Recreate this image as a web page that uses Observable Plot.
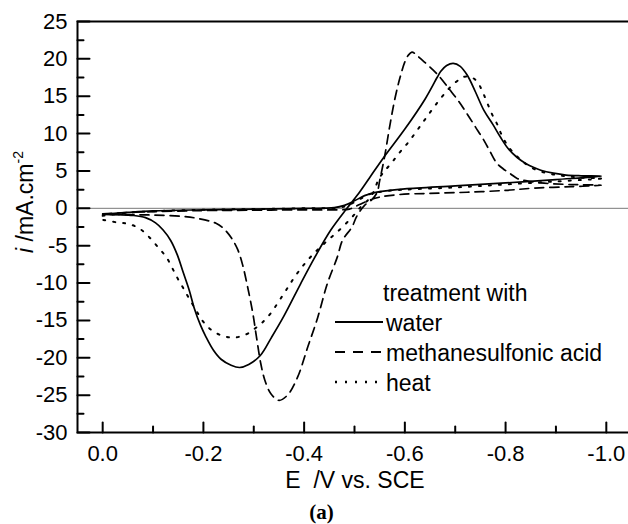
<!DOCTYPE html>
<html><head><meta charset="utf-8">
<script src="https://cdn.jsdelivr.net/npm/d3@7"></script>
<script src="https://cdn.jsdelivr.net/npm/@observablehq/plot@0.6"></script>
<style>
body{margin:0;background:#fff;}
#wrap{position:relative;width:628px;height:524px;overflow:hidden;background:#fff;}
#wrap svg{overflow:hidden;display:block;}
#caption{position:absolute;left:0;top:502px;width:643px;text-align:center;font:bold 21px "Liberation Serif","Times New Roman",serif;line-height:20px;color:#000;}
</style></head><body>
<div id="wrap"><div id="chart"></div><div id="caption">(a)</div></div>
<script>
// ---- data (E in V vs SCE, i in mA.cm-2), each curve traced as one closed cycle ----
const waterE = [0.0,-0.05,-0.1,-0.2,-0.3,-0.4,-0.46,-0.48,-0.5,-0.52,-0.54,-0.57,-0.6,-0.7,-0.8,-0.9,-0.99,
  -0.95,-0.92,-0.895,-0.87,-0.855,-0.84,-0.823,-0.805,-0.79,-0.775,-0.757,-0.74,-0.724,-0.71,-0.696,-0.683,-0.671,-0.664,-0.64,-0.6,-0.558,-0.53,-0.505,-0.485,-0.452,-0.42,-0.393,-0.36,-0.335,-0.313,-0.29,-0.272,-0.255,-0.235,-0.22,-0.205,-0.194,-0.182,-0.172,-0.16,-0.148,-0.135,-0.12,-0.105,-0.085,-0.06,-0.03,0.0];
const waterI = [-0.8,-0.55,-0.35,-0.2,-0.1,0.0,0.1,0.4,1.0,1.7,2.1,2.4,2.6,3.0,3.4,3.85,4.3,
  4.35,4.45,4.7,5.1,5.5,6.0,6.8,8.0,9.5,11.2,13.1,15.6,17.8,19.0,19.4,19.1,18.3,17.5,14.6,10.6,6.8,4.1,1.7,0.0,-3.0,-6.7,-10.1,-14.4,-17.3,-19.7,-20.9,-21.3,-21.0,-20.2,-19.0,-17.2,-15.6,-13.4,-11.0,-8.6,-6.2,-4.3,-2.9,-1.95,-1.25,-0.95,-0.85,-0.8];

const acidE = [0.0,-0.05,-0.1,-0.2,-0.3,-0.4,-0.47,-0.49,-0.51,-0.53,-0.55,-0.59,-0.65,-0.724,-0.8,-0.856,-0.93,-0.99,
  -0.95,-0.92,-0.87,-0.84,-0.823,-0.81,-0.795,-0.783,-0.77,-0.757,-0.74,-0.724,-0.707,-0.69,-0.665,-0.645,-0.63,-0.62,-0.614,-0.607,-0.6,-0.59,-0.58,-0.57,-0.56,-0.55,-0.545,-0.535,-0.52,-0.505,-0.495,-0.476,-0.466,-0.446,-0.427,-0.407,-0.387,-0.367,-0.35,-0.334,-0.322,-0.314,-0.306,-0.298,-0.288,-0.278,-0.268,-0.255,-0.24,-0.225,-0.19,-0.16,-0.1,-0.05,0.0];
const acidI = [-0.75,-0.55,-0.45,-0.3,-0.25,-0.2,-0.2,-0.1,0.5,1.1,1.5,1.85,2.0,2.15,2.4,2.7,2.9,3.1,
  3.15,3.2,3.4,3.7,4.0,4.6,5.3,6.0,7.5,9.1,10.9,12.6,14.3,15.8,17.9,19.2,20.1,20.7,20.9,20.5,19.6,17.4,14.6,11.0,7.0,3.7,2.15,1.2,0.4,-1.0,-2.5,-4.3,-6.5,-10.1,-14.6,-18.6,-22.6,-25.0,-25.7,-24.8,-23.0,-20.8,-17.5,-14.0,-10.6,-7.6,-5.5,-3.9,-2.7,-2.0,-1.37,-1.1,-0.9,-0.85,-0.8];

const heatE = [0.0,-0.05,-0.1,-0.2,-0.3,-0.4,-0.47,-0.49,-0.51,-0.53,-0.56,-0.6,-0.7,-0.8,-0.9,-0.99,
  -0.95,-0.92,-0.89,-0.862,-0.843,-0.825,-0.806,-0.793,-0.783,-0.773,-0.763,-0.753,-0.743,-0.73,-0.718,-0.709,-0.69,-0.671,-0.654,-0.638,-0.624,-0.607,-0.59,-0.575,-0.56,-0.548,-0.538,-0.528,-0.512,-0.495,-0.47,-0.445,-0.42,-0.4,-0.38,-0.357,-0.327,-0.304,-0.284,-0.26,-0.24,-0.218,-0.2,-0.185,-0.172,-0.161,-0.149,-0.139,-0.126,-0.111,-0.093,-0.073,-0.05,-0.03,0.0];
const heatI = [-1.0,-0.6,-0.4,-0.2,-0.1,0.0,0.1,0.5,1.2,1.9,2.3,2.5,2.8,3.2,3.6,4.0,
  4.1,4.3,4.6,5.1,5.8,6.8,8.2,9.7,11.3,12.6,14.2,15.8,17.0,17.6,17.6,17.3,16.2,14.7,13.2,11.7,10.4,8.85,7.5,6.2,5.0,3.9,2.2,1.2,0.15,-1.2,-2.9,-4.4,-6.0,-7.5,-9.3,-11.7,-14.6,-16.0,-16.9,-17.3,-17.1,-16.4,-15.2,-13.6,-12.1,-10.8,-9.4,-8.1,-6.5,-5.3,-3.9,-2.7,-2.07,-1.9,-1.55];

const seriesNames = ["water", "methanesulfonic acid", "heat"];
const legendTitle = "treatment with";
const xMajorTicks = [0.0, -0.2, -0.4, -0.6, -0.8, -1.0];
const xMinorTicks = [-0.1, -0.3, -0.5, -0.7, -0.9];
const yMajorTicks = [-30, -25, -20, -15, -10, -5, 0, 5, 10, 15, 20, 25];
const yMinorTicks = [-27.5, -22.5, -17.5, -12.5, -7.5, -2.5, 2.5, 7.5, 12.5, 17.5, 22.5];
const xLabel = "E  /V vs. SCE";

// ---- build table ----
const curves = [[waterE, waterI], [acidE, acidI], [heatE, heatI]];
const rows = [];
curves.forEach(([E, I], s) => E.forEach((e, k) => rows.push({series: seriesNames[s], E: e, I: I[k]})));

const styles = {
  "water": {strokeWidth: 1.7, strokeDasharray: null, legendDash: null},
  "methanesulfonic acid": {strokeWidth: 1.7, strokeDasharray: "9,6", legendDash: "10,8"},
  "heat": {strokeWidth: 2, strokeDasharray: "2,8", legendDash: "2,8"}
};

// plain line shape for inward tick vectors
const tickShape = {draw(context, l) { context.moveTo(0, 0); context.lineTo(0, -l); }};
const inwardX = (ticks, len) => Plot.vector(ticks, {x: d => d, frameAnchor: "bottom", anchor: "start",
  rotate: 0, length: len, shape: tickShape, stroke: "#000", strokeWidth: 2});
const inwardY = (ticks, len) => Plot.vector(ticks, {y: d => d, frameAnchor: "left", anchor: "start",
  rotate: 90, length: len, shape: tickShape, stroke: "#000", strokeWidth: 2});

const font = "'Liberation Sans', Arial, sans-serif";
const chart = Plot.plot({
  width: 628, height: 497,
  marginLeft: 77, marginRight: -4, marginTop: 21, marginBottom: 65,
  x: {domain: [0.05, -1.052]},
  y: {domain: [-30, 25]},
  style: {fontFamily: font, fontSize: "22px", color: "#000", background: "#fff", overflow: "hidden"},
  marks: [
    Plot.ruleY([0], {stroke: "#7a7a7a", strokeWidth: 1}),
    ...seriesNames.map(name => Plot.line(rows.filter(d => d.series === name), {
      x: "E", y: "I", stroke: "#000", curve: "catmull-rom",
      strokeWidth: styles[name].strokeWidth, strokeDasharray: styles[name].strokeDasharray
    })),
    Plot.frame({stroke: "#000", strokeWidth: 2}),
    inwardX(xMajorTicks, 10),
    inwardX(xMinorTicks, 6),
    inwardY(yMajorTicks, 12),
    inwardY(yMinorTicks, 6),
    Plot.axisX(xMajorTicks, {tickSize: 0, tickPadding: 13, tickFormat: d => d.toFixed(1), label: null}),
    Plot.axisY(yMajorTicks, {tickSize: 0, tickPadding: 10, tickFormat: d => String(d), label: null})
  ]
});
document.getElementById("chart").appendChild(chart);

// ---- axis titles and legend ----
const svg = d3.select(chart);
svg.append("text")
  .attr("x", 355).attr("y", 488).attr("text-anchor", "middle")
  .attr("font-family", font).attr("font-size", 23).attr("fill", "#000")
  .style("white-space", "pre").text(xLabel);

const yl = svg.append("text")
  .attr("transform", "translate(33,202) rotate(-90)").attr("text-anchor", "middle")
  .attr("font-family", font).attr("font-size", 23).attr("fill", "#000");
yl.append("tspan").attr("font-style", "italic").text("i");
yl.append("tspan").style("white-space", "pre").text(" /mA.cm");
yl.append("tspan").attr("font-size", 14).attr("dy", -10).text("-2");

const lg = svg.append("g").attr("font-family", font).attr("font-size", 23)
  .attr("fill", "#000").attr("text-anchor", "start");
lg.append("text").attr("x", 383).attr("y", 301).text(legendTitle);
seriesNames.forEach((name, k) => {
  const yb = 331 + k * 30;
  lg.append("line").attr("x1", 335).attr("x2", 383).attr("y1", yb - 9).attr("y2", yb - 9)
    .attr("stroke", "#000").attr("stroke-width", styles[name].strokeWidth + 0.3)
    .attr("stroke-dasharray", styles[name].legendDash);
  lg.append("text").attr("x", 386).attr("y", yb).text(name);
});
</script></body></html>
